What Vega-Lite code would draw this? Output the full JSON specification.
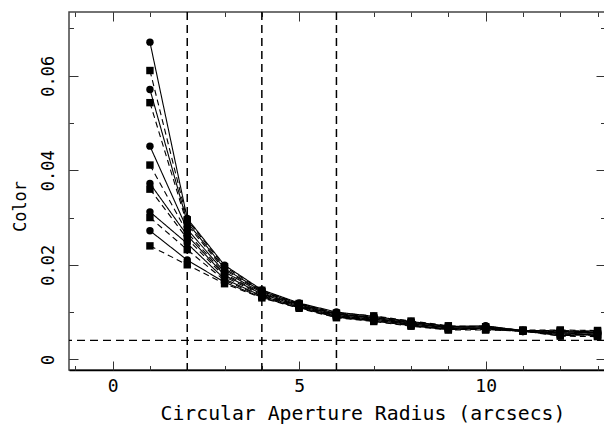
{
"$schema":"https://vega.github.io/schema/vega-lite/v6.json",
"autosize":{"type":"none"},
"padding":{"left":69,"top":12,"right":0,"bottom":62},
"width":536,"height":358,
"config":{"view":{"stroke":"#444","strokeWidth":1.5},"axis":{"grid":false,"domain":false,"labelFont":"DejaVu Sans Mono","titleFont":"DejaVu Sans Mono","labelFontSize":17,"titleFontSize":17,"titleFontWeight":"normal","labelColor":"black","titleColor":"black","tickColor":"#333","tickWidth":1}},
"datasets":{
"pts":[
{"s":1,"t":"c","x":1,"y":0.0671},{"s":1,"t":"c","x":2,"y":0.0298},{"s":1,"t":"c","x":3,"y":0.0199},{"s":1,"t":"c","x":4,"y":0.0147},{"s":1,"t":"c","x":5,"y":0.0119},{"s":1,"t":"c","x":6,"y":0.0100},{"s":1,"t":"c","x":7,"y":0.0091},{"s":1,"t":"c","x":8,"y":0.0080},{"s":1,"t":"c","x":9,"y":0.0070},{"s":1,"t":"c","x":10,"y":0.0070},{"s":1,"t":"c","x":11,"y":0.0061},{"s":1,"t":"c","x":12,"y":0.0060},{"s":1,"t":"c","x":13,"y":0.0058},
{"s":2,"t":"s","x":1,"y":0.0611},{"s":2,"t":"s","x":2,"y":0.0295},{"s":2,"t":"s","x":3,"y":0.0196},{"s":2,"t":"s","x":4,"y":0.0146},{"s":2,"t":"s","x":5,"y":0.0118},{"s":2,"t":"s","x":6,"y":0.0098},{"s":2,"t":"s","x":7,"y":0.0092},{"s":2,"t":"s","x":8,"y":0.0081},{"s":2,"t":"s","x":9,"y":0.0071},{"s":2,"t":"s","x":10,"y":0.0068},{"s":2,"t":"s","x":11,"y":0.0062},{"s":2,"t":"s","x":12,"y":0.0062},{"s":2,"t":"s","x":13,"y":0.0061},
{"s":3,"t":"c","x":1,"y":0.0571},{"s":3,"t":"c","x":2,"y":0.0290},{"s":3,"t":"c","x":3,"y":0.0192},{"s":3,"t":"c","x":4,"y":0.0144},{"s":3,"t":"c","x":5,"y":0.0117},{"s":3,"t":"c","x":6,"y":0.0097},{"s":3,"t":"c","x":7,"y":0.0089},{"s":3,"t":"c","x":8,"y":0.0079},{"s":3,"t":"c","x":9,"y":0.0069},{"s":3,"t":"c","x":10,"y":0.0071},{"s":3,"t":"c","x":11,"y":0.0060},{"s":3,"t":"c","x":12,"y":0.0050},{"s":3,"t":"c","x":13,"y":0.0052},
{"s":4,"t":"s","x":1,"y":0.0543},{"s":4,"t":"s","x":2,"y":0.0285},{"s":4,"t":"s","x":3,"y":0.0189},{"s":4,"t":"s","x":4,"y":0.0143},{"s":4,"t":"s","x":5,"y":0.0116},{"s":4,"t":"s","x":6,"y":0.0096},{"s":4,"t":"s","x":7,"y":0.0088},{"s":4,"t":"s","x":8,"y":0.0078},{"s":4,"t":"s","x":9,"y":0.0068},{"s":4,"t":"s","x":10,"y":0.0069},{"s":4,"t":"s","x":11,"y":0.0061},{"s":4,"t":"s","x":12,"y":0.0058},{"s":4,"t":"s","x":13,"y":0.0049},
{"s":5,"t":"c","x":1,"y":0.0451},{"s":5,"t":"c","x":2,"y":0.0275},{"s":5,"t":"c","x":3,"y":0.0185},{"s":5,"t":"c","x":4,"y":0.0141},{"s":5,"t":"c","x":5,"y":0.0115},{"s":5,"t":"c","x":6,"y":0.0095},{"s":5,"t":"c","x":7,"y":0.0087},{"s":5,"t":"c","x":8,"y":0.0077},{"s":5,"t":"c","x":9,"y":0.0067},{"s":5,"t":"c","x":10,"y":0.0066},{"s":5,"t":"c","x":11,"y":0.0060},{"s":5,"t":"c","x":12,"y":0.0055},{"s":5,"t":"c","x":13,"y":0.0056},
{"s":6,"t":"s","x":1,"y":0.0411},{"s":6,"t":"s","x":2,"y":0.0268},{"s":6,"t":"s","x":3,"y":0.0181},{"s":6,"t":"s","x":4,"y":0.0139},{"s":6,"t":"s","x":5,"y":0.0114},{"s":6,"t":"s","x":6,"y":0.0094},{"s":6,"t":"s","x":7,"y":0.0086},{"s":6,"t":"s","x":8,"y":0.0076},{"s":6,"t":"s","x":9,"y":0.0066},{"s":6,"t":"s","x":10,"y":0.0065},{"s":6,"t":"s","x":11,"y":0.0061},{"s":6,"t":"s","x":12,"y":0.0061},{"s":6,"t":"s","x":13,"y":0.0059},
{"s":7,"t":"c","x":1,"y":0.0372},{"s":7,"t":"c","x":2,"y":0.0262},{"s":7,"t":"c","x":3,"y":0.0178},{"s":7,"t":"c","x":4,"y":0.0138},{"s":7,"t":"c","x":5,"y":0.0113},{"s":7,"t":"c","x":6,"y":0.0093},{"s":7,"t":"c","x":7,"y":0.0085},{"s":7,"t":"c","x":8,"y":0.0075},{"s":7,"t":"c","x":9,"y":0.0066},{"s":7,"t":"c","x":10,"y":0.0067},{"s":7,"t":"c","x":11,"y":0.0059},{"s":7,"t":"c","x":12,"y":0.0053},{"s":7,"t":"c","x":13,"y":0.0054},
{"s":8,"t":"s","x":1,"y":0.0360},{"s":8,"t":"s","x":2,"y":0.0255},{"s":8,"t":"s","x":3,"y":0.0175},{"s":8,"t":"s","x":4,"y":0.0136},{"s":8,"t":"s","x":5,"y":0.0112},{"s":8,"t":"s","x":6,"y":0.0092},{"s":8,"t":"s","x":7,"y":0.0084},{"s":8,"t":"s","x":8,"y":0.0074},{"s":8,"t":"s","x":9,"y":0.0065},{"s":8,"t":"s","x":10,"y":0.0064},{"s":8,"t":"s","x":11,"y":0.0060},{"s":8,"t":"s","x":12,"y":0.0057},{"s":8,"t":"s","x":13,"y":0.0050},
{"s":9,"t":"c","x":1,"y":0.0312},{"s":9,"t":"c","x":2,"y":0.0245},{"s":9,"t":"c","x":3,"y":0.0170},{"s":9,"t":"c","x":4,"y":0.0134},{"s":9,"t":"c","x":5,"y":0.0111},{"s":9,"t":"c","x":6,"y":0.0091},{"s":9,"t":"c","x":7,"y":0.0083},{"s":9,"t":"c","x":8,"y":0.0073},{"s":9,"t":"c","x":9,"y":0.0064},{"s":9,"t":"c","x":10,"y":0.0066},{"s":9,"t":"c","x":11,"y":0.0061},{"s":9,"t":"c","x":12,"y":0.0059},{"s":9,"t":"c","x":13,"y":0.0060},
{"s":10,"t":"s","x":1,"y":0.0300},{"s":10,"t":"s","x":2,"y":0.0232},{"s":10,"t":"s","x":3,"y":0.0167},{"s":10,"t":"s","x":4,"y":0.0133},{"s":10,"t":"s","x":5,"y":0.0110},{"s":10,"t":"s","x":6,"y":0.0090},{"s":10,"t":"s","x":7,"y":0.0082},{"s":10,"t":"s","x":8,"y":0.0072},{"s":10,"t":"s","x":9,"y":0.0063},{"s":10,"t":"s","x":10,"y":0.0063},{"s":10,"t":"s","x":11,"y":0.0060},{"s":10,"t":"s","x":12,"y":0.0049},{"s":10,"t":"s","x":13,"y":0.0048},
{"s":11,"t":"c","x":1,"y":0.0272},{"s":11,"t":"c","x":2,"y":0.0210},{"s":11,"t":"c","x":3,"y":0.0163},{"s":11,"t":"c","x":4,"y":0.0131},{"s":11,"t":"c","x":5,"y":0.0109},{"s":11,"t":"c","x":6,"y":0.0089},{"s":11,"t":"c","x":7,"y":0.0081},{"s":11,"t":"c","x":8,"y":0.0071},{"s":11,"t":"c","x":9,"y":0.0063},{"s":11,"t":"c","x":10,"y":0.0065},{"s":11,"t":"c","x":11,"y":0.0059},{"s":11,"t":"c","x":12,"y":0.0056},{"s":11,"t":"c","x":13,"y":0.0057},
{"s":12,"t":"s","x":1,"y":0.0240},{"s":12,"t":"s","x":2,"y":0.0200},{"s":12,"t":"s","x":3,"y":0.0160},{"s":12,"t":"s","x":4,"y":0.0130},{"s":12,"t":"s","x":5,"y":0.0108},{"s":12,"t":"s","x":6,"y":0.0088},{"s":12,"t":"s","x":7,"y":0.0080},{"s":12,"t":"s","x":8,"y":0.0070},{"s":12,"t":"s","x":9,"y":0.0062},{"s":12,"t":"s","x":10,"y":0.0062},{"s":12,"t":"s","x":11,"y":0.0060},{"s":12,"t":"s","x":12,"y":0.0052},{"s":12,"t":"s","x":13,"y":0.0053}
],
"vlines":[{"v":2},{"v":4},{"v":6}],
"hlines":[{"h":0.004}]
},
"resolve":{"axis":{"x":"independent","y":"independent"}},
"layer":[
{"data":{"name":"pts"},
 "mark":{"type":"line","color":"black","strokeWidth":1.1},
 "encoding":{
  "x":{"field":"x","type":"quantitative","scale":{"domain":[-1.17,13.2],"nice":false,"zero":false},
       "axis":{"orient":"bottom","values":[0,5,10],"tickSize":-9,"labelPadding":16,"labelFontSize":18,"title":"Circular Aperture Radius (arcsecs)","titleFontSize":19.8,"titlePadding":8,"titleAlign":"left","titleAnchor":"start","titleX":91,"domain":true,"domainColor":"black","domainWidth":1.5}},
  "y":{"field":"y","type":"quantitative","scale":{"domain":[-0.00226,0.07348],"nice":false,"zero":false},
       "axis":{"orient":"left","values":[0,0.02,0.04,0.06],"format":".2~f","tickSize":-9,"labelAngle":-90,"labelAlign":"center","labelBaseline":"bottom","labelPadding":21,"title":"Color","titlePadding":10,"titleY":194}},
  "detail":{"field":"s","type":"nominal"},
  "strokeDash":{"field":"t","type":"nominal","scale":{"domain":["c","s"],"range":[[1,0],[6,4]]},"legend":null}
 }},
{"data":{"name":"pts"},
 "mark":{"type":"point","filled":true,"color":"black","opacity":1,"size":55,"strokeWidth":0},
 "encoding":{
  "x":{"field":"x","type":"quantitative","scale":{"domain":[-1.17,13.2],"nice":false,"zero":false},
       "axis":{"orient":"bottom","values":[-1,0,1,2,3,4,5,6,7,8,9,10,11,12,13],"tickSize":-4.5,"labels":false,"title":null}},
  "y":{"field":"y","type":"quantitative","scale":{"domain":[-0.00226,0.07348],"nice":false,"zero":false},
       "axis":{"orient":"left","values":[0,0.01,0.02,0.03,0.04,0.05,0.06,0.07],"tickSize":-4.5,"labels":false,"title":null}},
  "shape":{"field":"t","type":"nominal","scale":{"domain":["c","s"],"range":["circle","square"]},"legend":null}
 }},
{"data":{"name":"pts"},
 "mark":{"type":"point","opacity":0},
 "encoding":{
  "x":{"field":"x","type":"quantitative","scale":{"domain":[-1.17,13.2],"nice":false,"zero":false},
       "axis":{"orient":"top","values":[0,5,10],"tickSize":-9,"labels":false,"title":null}},
  "y":{"field":"y","type":"quantitative","scale":{"domain":[-0.00226,0.07348],"nice":false,"zero":false},
       "axis":{"orient":"right","values":[0,0.02,0.04,0.06],"tickSize":-9,"labels":false,"title":null}}
 }},
{"data":{"name":"pts"},
 "mark":{"type":"point","opacity":0},
 "encoding":{
  "x":{"field":"x","type":"quantitative","scale":{"domain":[-1.17,13.2],"nice":false,"zero":false},
       "axis":{"orient":"top","values":[-1,0,1,2,3,4,5,6,7,8,9,10,11,12,13],"tickSize":-4.5,"labels":false,"title":null}},
  "y":{"field":"y","type":"quantitative","scale":{"domain":[-0.00226,0.07348],"nice":false,"zero":false},
       "axis":{"orient":"right","values":[0,0.01,0.02,0.03,0.04,0.05,0.06,0.07],"tickSize":-4.5,"labels":false,"title":null}}
 }},
{"data":{"name":"vlines"},
 "mark":{"type":"rule","color":"black","strokeWidth":1.5,"strokeDash":[8,5]},
 "encoding":{
  "x":{"field":"v","type":"quantitative","scale":{"domain":[-1.17,13.2],"nice":false,"zero":false},"axis":null}
 }},
{"data":{"name":"hlines"},
 "mark":{"type":"rule","color":"black","strokeWidth":1.3,"strokeDash":[8,5]},
 "encoding":{
  "y":{"field":"h","type":"quantitative","scale":{"domain":[-0.00226,0.07348],"nice":false,"zero":false},"axis":null}
 }}
]
}
